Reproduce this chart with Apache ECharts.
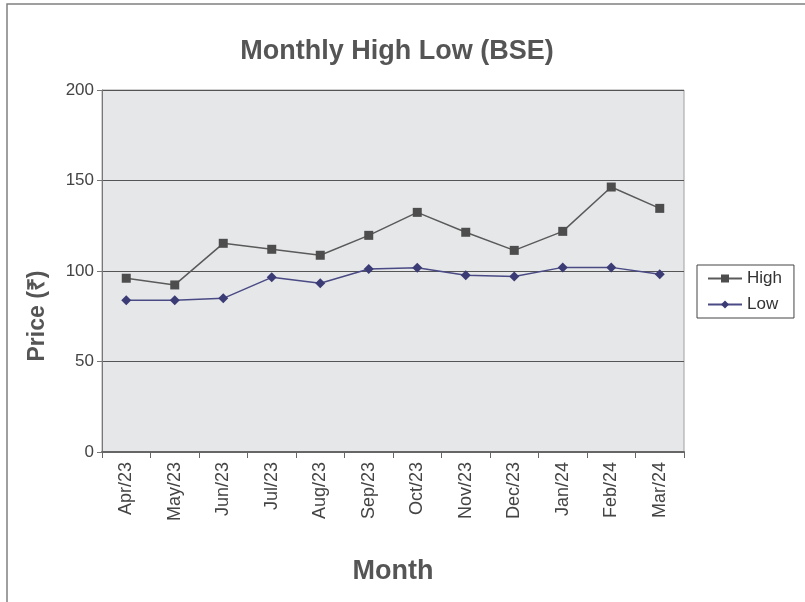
<!DOCTYPE html>
<html>
<head>
<meta charset="utf-8">
<script src="https://cdn.jsdelivr.net/npm/echarts@6/dist/echarts.min.js"></script>
<style>
  html, body { margin: 0; padding: 0; background: #fff; }
  #chart { width: 805px; height: 602px; }
</style>
</head>
<body>
<div id="chart"></div>
<script>
const months = ['Apr/23', 'May/23', 'Jun/23', 'Jul/23', 'Aug/23', 'Sep/23',
                'Oct/23', 'Nov/23', 'Dec/23', 'Jan/24', 'Feb/24', 'Mar/24']
const high = [96, 92.3, 115.3, 112, 108.7, 119.7, 132.4, 121.4, 111.4, 121.9, 146.4, 134.6]
const low = [83.8, 83.8, 84.9, 96.5, 93.2, 101.1, 101.8, 97.6, 96.9, 102, 102, 98.2]

const font = 'Liberation Sans, Arial, sans-serif'
const chart = echarts.init(document.getElementById('chart'))

chart.setOption({
  animation: false,
  textStyle: { fontFamily: font },
  graphic: [
    {
      type: 'rect',
      shape: { x: 7, y: 4, width: 810, height: 620 },
      style: { fill: 'none', stroke: '#808080', lineWidth: 1.5 },
      silent: true
    },
    {
      // y axis title, sits a bit below the plot middle like the original
      type: 'text',
      x: 38, y: 316,
      rotation: Math.PI / 2,
      style: {
        text: 'Price (₹)',
        fontSize: 23, fontWeight: 'bold', fill: '#555', fontFamily: font,
        align: 'center', verticalAlign: 'middle'
      },
      silent: true
    }
  ],
  title: {
    text: 'Monthly High Low (BSE)',
    left: 392, textAlign: 'center', top: 33,
    textStyle: { fontSize: 27, fontWeight: 'bold', color: '#555', fontFamily: font }
  },
  legend: {
    orient: 'vertical',
    left: 697, top: 265,
    padding: [5, 12, 5, 10],
    itemGap: 9,
    itemWidth: 34, itemHeight: 10,
    borderColor: '#444', borderWidth: 1,
    textStyle: { fontSize: 17, color: '#333', fontFamily: font },
    data: ['High', 'Low']
  },
  grid: {
    left: 102, right: 121, top: 90, bottom: 150,
    show: true, backgroundColor: '#e6e7e9', borderColor: '#a0a0a0', borderWidth: 1
  },
  xAxis: {
    type: 'category',
    data: months,
    boundaryGap: true,
    name: 'Month',
    nameLocation: 'middle',
    nameGap: 106,
    nameTextStyle: { fontSize: 27, fontWeight: 'bold', color: '#555', fontFamily: font },
    axisLine: { lineStyle: { color: '#666', width: 2 } },
    axisTick: { show: true, length: 6, lineStyle: { color: '#666' } },
    axisLabel: { rotate: 90, fontSize: 18, color: '#444', margin: 10, fontFamily: font }
  },
  yAxis: {
    type: 'value',
    min: 0, max: 200, interval: 50,
    axisLine: { show: true, lineStyle: { color: '#777' } },
    axisTick: { show: true, length: 5, lineStyle: { color: '#777' } },
    axisLabel: { fontSize: 17, color: '#444', margin: 8, fontFamily: font },
    splitLine: { show: true, lineStyle: { color: '#555', width: 1 } }
  },
  series: [
    {
      name: 'High',
      type: 'line',
      data: high,
      symbol: 'rect',
      symbolSize: 9,
      itemStyle: { color: '#4d4d4d' },
      lineStyle: { color: '#5a5a5a', width: 1.5 }
    },
    {
      name: 'Low',
      type: 'line',
      data: low,
      symbol: 'diamond',
      symbolSize: 10,
      itemStyle: { color: '#3b3b75' },
      lineStyle: { color: '#4a4a85', width: 1.5 }
    }
  ]
})
</script>
</body>
</html>
